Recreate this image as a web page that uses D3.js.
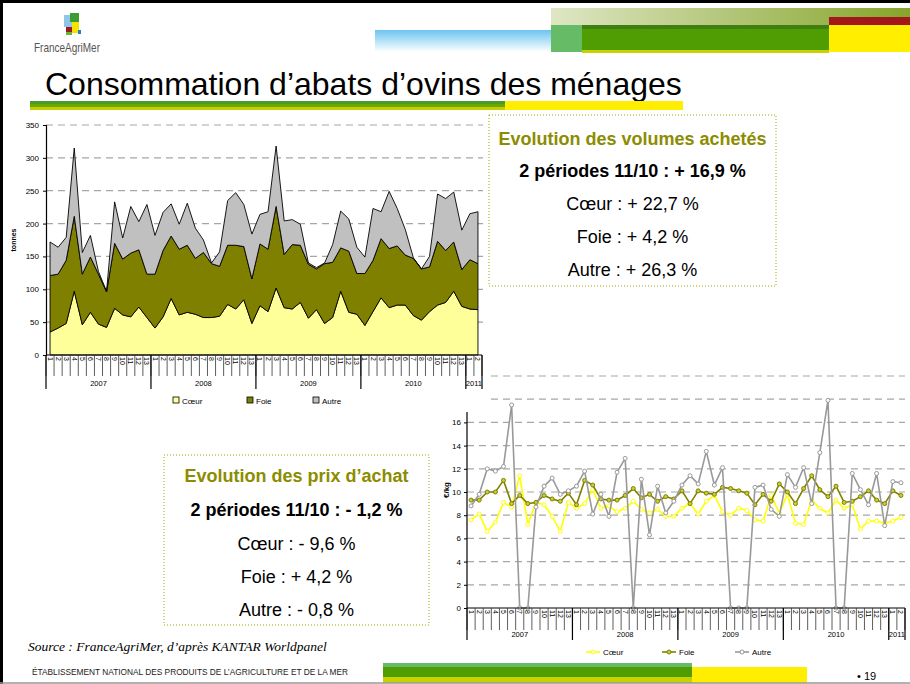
<!DOCTYPE html>
<html>
<head>
<meta charset="utf-8">
<title>Consommation d'abats d'ovins des ménages</title>
<style>
  body { margin: 0; background: #fff; }
  svg { display: block; font-family: "Liberation Sans", Arial, sans-serif; }
</style>
</head>
<body>
<svg id="slide" width="910" height="684"></svg>
<script src="https://cdn.jsdelivr.net/npm/d3@7/dist/d3.min.js"></script>
<script>
// periods (4-week) per year, tick labels of both charts
const years = ['2007', '2008', '2009', '2010', '2011'];
const periodsPerYear = [13, 13, 13, 13, 2];

// volumes (tonnes), one value per period
const coeurVol = [35,41,48,97,46,65,47,42,71,61,58,73,57, 41,58,86,61,65,62,57,57,59,77,70,84,48,
                  75,66,102,72,70,80,56,69,48,57,97,65,62, 45,66,87,72,76,76,60,53,66,76,80,97,74, 70,69];
const foieVol  = [86,82,96,114,77,84,76,54,99,85,97,87,66, 82,101,95,100,102,85,99,82,76,90,97,81,68,
                  94,95,124,81,98,87,82,62,91,84,66,93,62, 79,78,90,90,90,76,87,78,68,97,79,75,56, 75,70];
const autreVol = [51,41,35,104,33,33,4,1,63,32,71,43,106, 59,58,49,38,64,46,19,1,22,68,80,64,68,
                  45,57,92,51,38,32,2,2,1,27,56,49,40, 25,79,41,87,57,39,1,0,16,72,79,76,60, 70,79];

// prix (€/kg)
const coeurPrix = [7.6,8.1,6.6,7.4,9.1,8.7,11.4,7.2,9.1,8.9,7.9,6.6,9.1, 8.6,9.0,10.2,8.6,8.8,8.3,8.6,9.2,8.5,8.2,8.5,7.9,7.9,
                   8.6,9.0,8.1,9.2,9.7,8.3,8.0,8.6,8.4,7.6,7.5,9.7,8.2, 9.8,7.3,7.2,9.3,8.6,8.2,9.3,8.6,8.9,6.8,7.5,7.5,7.3, 7.5,7.8];
const foiePrix  = [9.3,9.3,10.0,10.0,11.0,9.0,9.7,9.0,9.1,9.7,9.4,9.2,9.9, 8.9,11.0,10.6,9.4,9.3,9.3,9.7,10.3,9.5,9.8,9.2,9.6,9.4,
                   10.1,9.0,10.1,9.9,9.8,10.4,10.3,10.1,9.9,8.9,9.8,9.2,10.7, 10.0,9.0,10.3,11.4,10.2,9.6,10.5,9.1,9.2,9.6,10.1,9.3,9.0, 10.1,9.7];
const autrePrix = [8.8,9.8,12.0,11.8,12.2,17.5,0,0,8.7,10.5,11.2,9.8,10.1, 10.5,11.8,8.1,9.8,7.9,11.7,12.9,0,11.1,6.3,10.5,8.2,9.2,
                   10.6,11.4,10.7,13.5,10.6,12.1,0,0,0,10.4,10.6,8.5,7.9, 11.5,10.4,12.1,9.0,13.4,17.9,0,0,11.6,10.2,8.9,11.6,7.1, 10.9,10.8];

const volLegend = ['Cœur', 'Foie', 'Autre'];
const volColors = ['#ffff99', '#808000', '#c0c0c0'];
const prixColors = ['#ffff00', '#808000', '#999999'];
const prixMarkerFill = ['#ffffff', '#cccc33', '#ffffff'];

// build the category list
const cats = [];
years.forEach((yr, k) => {
  for (let p = 1; p <= periodsPerYear[k]; p++) cats.push({ year: yr, period: p });
});
const yearStarts = [0];
periodsPerYear.forEach(n => yearStarts.push(yearStarts[yearStarts.length - 1] + n));

const svg = d3.select('#slide');

// ---------- slide frame and header ----------
const defs = svg.append('defs');
const gBlue = defs.append('linearGradient').attr('id', 'gBlue').attr('x1', 0).attr('y1', 0).attr('x2', 0).attr('y2', 1);
gBlue.append('stop').attr('offset', 0).attr('stop-color', '#6cc4f0');
gBlue.append('stop').attr('offset', 1).attr('stop-color', '#ffffff');
const gPale = defs.append('linearGradient').attr('id', 'gPale');
gPale.append('stop').attr('offset', 0).attr('stop-color', '#dfe6c4');
gPale.append('stop').attr('offset', 1).attr('stop-color', '#86a52a');

svg.append('rect').attr('x', 375).attr('y', 30).attr('width', 177).attr('height', 22).attr('fill', 'url(#gBlue)');
svg.append('rect').attr('x', 551).attr('y', 8).attr('width', 359).attr('height', 17).attr('fill', 'url(#gPale)');
svg.append('rect').attr('x', 829).attr('y', 17).attr('width', 81).attr('height', 8).attr('fill', '#a3161a');
svg.append('rect').attr('x', 551).attr('y', 25).attr('width', 31).attr('height', 27).attr('fill', '#66bb66');
svg.append('rect').attr('x', 582).attr('y', 25).attr('width', 247).attr('height', 27).attr('fill', '#4f9d03');
svg.append('rect').attr('x', 582).attr('y', 25).attr('width', 247).attr('height', 4).attr('fill', '#3f7f10');
svg.append('rect').attr('x', 582).attr('y', 50).attr('width', 247).attr('height', 3).attr('fill', '#c6d300');
svg.append('rect').attr('x', 829).attr('y', 25).attr('width', 81).attr('height', 27).attr('fill', '#ffee00');

// logo
const logo = svg.append('g');
logo.append('rect').attr('x', 64).attr('y', 15).attr('width', 9).attr('height', 12).attr('fill', '#8fc6e8');
logo.append('rect').attr('x', 70).attr('y', 13).attr('width', 9).attr('height', 9).attr('fill', '#3d9b35');
logo.append('rect').attr('x', 72).attr('y', 22).attr('width', 7).attr('height', 11).attr('fill', '#f2e600');
logo.append('rect').attr('x', 66).attr('y', 27).attr('width', 6).attr('height', 5).attr('fill', '#9a1c20');
logo.append('rect').attr('x', 66).attr('y', 32).attr('width', 6).attr('height', 3).attr('fill', '#6bb33a');
logo.append('rect').attr('x', 78).attr('y', 30).attr('width', 3).attr('height', 4).attr('fill', '#2a7fc0');
svg.append('text').attr('x', 34).attr('y', 52).attr('font-size', 13).attr('fill', '#555')
  .attr('textLength', 66).attr('lengthAdjust', 'spacingAndGlyphs').text('FranceAgriMer');

svg.append('text').attr('x', 45).attr('y', 95).attr('font-size', 32).attr('fill', '#000')
  .text('Consommation d’abats d’ovins des ménages');

svg.append('rect').attr('x', 30).attr('y', 101).attr('width', 475).attr('height', 3).attr('fill', '#4c9a2a');
svg.append('rect').attr('x', 30).attr('y', 104).attr('width', 475).attr('height', 3).attr('fill', '#6aa800');
svg.append('rect').attr('x', 30).attr('y', 107).attr('width', 475).attr('height', 3).attr('fill', '#c3cf00');
svg.append('rect').attr('x', 505).attr('y', 101).attr('width', 178).attr('height', 9).attr('fill', '#ffee00');

// ---------- line chart (prix) ----------
const px = d3.scaleBand().domain(d3.range(cats.length)).range([467, 905]);
const py = d3.scaleLinear().domain([0, 20]).range([608, 376]);
const pc = i => px(i) + px.bandwidth() / 2;
const gP = svg.append('g');

gP.selectAll('line.grid').data(d3.range(2, 21, 2)).join('line')
  .attr('x1', 467).attr('x2', 905).attr('y1', d => py(d)).attr('y2', d => py(d))
  .attr('stroke', '#a6a6a6').attr('stroke-width', 1.2).attr('stroke-dasharray', '7,5');

gP.append('g').attr('transform', 'translate(467,0)')
  .call(d3.axisLeft(py).tickValues(d3.range(0, 17, 2)).tickSize(3).tickPadding(3))
  .call(g => g.select('.domain').remove())
  .call(g => g.selectAll('text').attr('font-size', 8).attr('font-family', 'Liberation Sans, Arial'));
gP.append('line').attr('x1', 467).attr('x2', 467).attr('y1', 412).attr('y2', 608).attr('stroke', '#000').attr('stroke-width', 1.2);
gP.append('text').attr('transform', 'translate(449,490) rotate(-90)').attr('text-anchor', 'middle')
  .attr('font-size', 8).attr('font-weight', 'bold').text('€/kg');

[coeurPrix, foiePrix, autrePrix].forEach((vals, k) => {
  gP.append('path').datum(vals)
    .attr('d', d3.line().x((d, i) => pc(i)).y(d => py(d)))
    .attr('fill', 'none').attr('stroke', prixColors[k]).attr('stroke-width', 1.6);
  gP.selectAll(null).data(vals).join('circle')
    .attr('cx', (d, i) => pc(i)).attr('cy', d => py(d)).attr('r', 2)
    .attr('fill', prixMarkerFill[k]).attr('stroke', prixColors[k]).attr('stroke-width', 1);
});

function drawCatAxis(g, x, y0, yearY, sepLen, tickLen) {
  const x0 = x.range()[0];
  const step = x.step();
  g.append('line').attr('x1', x0).attr('x2', x.range()[1]).attr('y1', y0).attr('y2', y0)
    .attr('stroke', '#000').attr('stroke-width', 1.2);
  g.selectAll(null).data(d3.range(cats.length + 1)).join('line')
    .attr('x1', i => x0 + i * step).attr('x2', i => x0 + i * step)
    .attr('y1', y0).attr('y2', y0 + tickLen).attr('stroke', '#333').attr('stroke-width', 0.8);
  g.selectAll(null).data(cats).join('text')
    .attr('transform', (d, i) => `translate(${x(i) + step / 2 - 2.5},${y0 + 2}) rotate(90)`)
    .attr('font-size', 7).attr('fill', '#000').text(d => d.period);
  g.selectAll(null).data(yearStarts).join('line')
    .attr('x1', i => x0 + i * step).attr('x2', i => x0 + i * step)
    .attr('y1', y0).attr('y2', y0 + sepLen).attr('stroke', '#000').attr('stroke-width', 1.2);
  g.selectAll(null).data(years).join('text')
    .attr('x', (d, k) => x0 + (yearStarts[k] + yearStarts[k + 1]) / 2 * step)
    .attr('y', yearY).attr('text-anchor', 'middle').attr('font-size', 7.5).text(d => d);
}
drawCatAxis(gP, px, 608, 637, 32, 22);

// legend of line chart
const lgP = [586, 662, 735];
volLegend.forEach((name, k) => {
  gP.append('line').attr('x1', lgP[k]).attr('x2', lgP[k] + 14).attr('y1', 652).attr('y2', 652)
    .attr('stroke', prixColors[k]).attr('stroke-width', 1.6);
  gP.append('circle').attr('cx', lgP[k] + 7).attr('cy', 652).attr('r', 2)
    .attr('fill', prixMarkerFill[k]).attr('stroke', prixColors[k]);
  gP.append('text').attr('x', lgP[k] + 17).attr('y', 655).attr('font-size', 8).text(name);
});

// ---------- area chart (volumes), its white frame hides the top of the line chart ----------
svg.append('rect').attr('x', 4).attr('y', 112).attr('width', 484).attr('height', 300).attr('fill', '#fff');

const vx = d3.scaleBand().domain(d3.range(cats.length)).range([46, 482]);
const vy = d3.scaleLinear().domain([0, 350]).range([355, 125]);
const vc = i => vx(i) + vx.bandwidth() / 2;
const gV = svg.append('g');

gV.selectAll('line.grid').data(d3.range(50, 351, 50)).join('line')
  .attr('x1', 46).attr('x2', 483).attr('y1', d => vy(d)).attr('y2', d => vy(d))
  .attr('stroke', '#a6a6a6').attr('stroke-width', 1.2).attr('stroke-dasharray', '7,5');

const rows = cats.map((c, i) => ({ coeur: coeurVol[i], foie: foieVol[i], autre: autreVol[i] }));
const stack = d3.stack().keys(['coeur', 'foie', 'autre'])(rows);
const area = d3.area().x((d, i) => vc(i)).y0(d => vy(d[0])).y1(d => vy(d[1]));
gV.selectAll('path.area').data(stack).join('path')
  .attr('d', area).attr('fill', (d, k) => volColors[k])
  .attr('stroke', '#000').attr('stroke-width', 0.9).attr('stroke-linejoin', 'round');

gV.append('g').attr('transform', 'translate(46,0)')
  .call(d3.axisLeft(vy).tickValues(d3.range(0, 351, 50)).tickSize(3).tickPadding(4))
  .call(g => g.select('.domain').attr('stroke-width', 1.2))
  .call(g => g.selectAll('text').attr('font-size', 8).attr('font-family', 'Liberation Sans, Arial'));
gV.append('text').attr('transform', 'translate(16,240) rotate(-90)').attr('text-anchor', 'middle')
  .attr('font-size', 7).attr('font-weight', 'bold').text('tonnes');

drawCatAxis(gV, vx, 355, 386, 34, 21);

const lgV = [173, 247, 313];
volLegend.forEach((name, k) => {
  gV.append('rect').attr('x', lgV[k]).attr('y', 397).attr('width', 6).attr('height', 6)
    .attr('fill', volColors[k]).attr('stroke', '#000').attr('stroke-width', 0.8);
  gV.append('text').attr('x', lgV[k] + 9).attr('y', 403.5).attr('font-size', 8).text(name);
});

// ---------- text boxes ----------
function box(x, y, w, h, lines) {
  svg.append('rect').attr('x', x).attr('y', y).attr('width', w).attr('height', h)
    .attr('fill', 'none').attr('stroke', '#a5a500').attr('stroke-width', 1).attr('stroke-dasharray', '1,2');
  lines.forEach(l => {
    svg.append('text').attr('x', x + w / 2).attr('y', l.y).attr('text-anchor', 'middle')
      .attr('font-size', l.size).attr('font-weight', l.bold ? 'bold' : 'normal')
      .attr('fill', l.color || '#000').text(l.t);
  });
}
box(489, 115, 287, 171, [
  { t: 'Evolution des volumes achetés', y: 145, size: 18, bold: true, color: '#8c8c00' },
  { t: '2 périodes 11/10 : + 16,9 %', y: 177, size: 18, bold: true },
  { t: 'Cœur : + 22,7 %', y: 210, size: 18 },
  { t: 'Foie : + 4,2 %', y: 243, size: 18 },
  { t: 'Autre : + 26,3 %', y: 276, size: 18 }
]);
box(164, 455, 265, 170, [
  { t: 'Evolution des prix d’achat', y: 482, size: 18, bold: true, color: '#8c8c00' },
  { t: '2 périodes 11/10 : - 1,2 %', y: 516, size: 18, bold: true },
  { t: 'Cœur : - 9,6 %', y: 550, size: 18 },
  { t: 'Foie : + 4,2 %', y: 583, size: 18 },
  { t: 'Autre : - 0,8 %', y: 616, size: 18 }
]);

svg.append('text').attr('x', 28).attr('y', 651).attr('font-family', 'Liberation Serif, Times New Roman, serif')
  .attr('font-style', 'italic').attr('font-size', 13.5).text('Source : FranceAgriMer, d’après KANTAR Worldpanel');

// ---------- footer ----------
svg.append('text').attr('x', 32).attr('y', 675).attr('font-size', 9).attr('fill', '#222')
  .attr('textLength', 316).attr('lengthAdjust', 'spacingAndGlyphs')
  .text('ÉTABLISSEMENT NATIONAL DES PRODUITS DE L’AGRICULTURE ET DE LA MER');
svg.append('rect').attr('x', 383).attr('y', 663).attr('width', 309).attr('height', 4).attr('fill', '#66bb66');
svg.append('rect').attr('x', 383).attr('y', 667).attr('width', 309).attr('height', 10).attr('fill', '#4f9d03');
svg.append('rect').attr('x', 383).attr('y', 677).attr('width', 309).attr('height', 6).attr('fill', '#c6d300');
svg.append('rect').attr('x', 692).attr('y', 667).attr('width', 115).attr('height', 16).attr('fill', '#ffee00');
svg.append('text').attr('x', 857).attr('y', 680).attr('font-size', 11).text('• 19');

svg.append('line').attr('x1', 0).attr('x2', 910).attr('y1', 1.5).attr('y2', 1.5).attr('stroke', '#000').attr('stroke-width', 3);
svg.append('line').attr('x1', 1.5).attr('x2', 1.5).attr('y1', 0).attr('y2', 684).attr('stroke', '#000').attr('stroke-width', 3);
svg.append('line').attr('x1', 0).attr('x2', 910).attr('y1', 683).attr('y2', 683).attr('stroke', '#999').attr('stroke-width', 1.5);
</script>
</body>
</html>
